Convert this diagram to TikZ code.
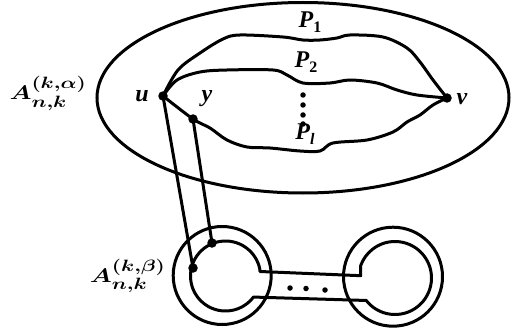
\documentclass[tikz,border=0pt]{standalone}
\usepackage{fontspec}
\usepackage{amsmath}
\usepackage{graphicx}
\newfontfamily\tnr{Liberation Serif}
\DeclareMathSizes{22}{22}{19}{14}
\usetikzlibrary{calc}
\newcommand{\subsc}[1]{\raisebox{-0.4ex}{\fontsize{16}{16}\selectfont #1}}
\newcommand{\wide}[1]{\scalebox{1.22}[0.95]{#1}}
\begin{document}
\begin{tikzpicture}[x=1pt,y=-1pt,line width=3pt,
  dotn/.style={circle,fill,inner sep=0pt,minimum size=9.5pt},
  sdot/.style={circle,fill,inner sep=0pt,minimum size=5.5pt},
  lbl/.style={font=\fontsize{24}{27}\selectfont\tnr\bfseries\itshape,inner sep=0pt},
  albl/.style={font=\fontsize{22}{25}\selectfont\boldmath,inner sep=0pt},
  pathline/.style={line join=round,line cap=round}]
\useasboundingbox (0,0) rectangle (511,334);
% outer region
\coordinate (E) at (303,97.75);
\draw (E) ellipse [x radius=206, y radius=95.25];
% vertices
\coordinate (u) at (163,96);
\coordinate (v) at (447,98);
\coordinate (y) at (193,119);
\coordinate (a) at (193,268);
\coordinate (b) at (212,243);
% paths
\draw[pathline] plot[smooth,tension=0.55] coordinates {(u) (178,70) (200,53) (223,39) (240,35) (283,37) (303,40) (320,40) (337,38) (350,35) (383,37) (407,48) (420,62) (433,80) (v)};
\draw[pathline] plot[smooth,tension=0.55] coordinates {(u) (177,80) (200,72) (227,70) (273,70) (287,75) (303,83) (330,83) (350,80) (377,83) (397,90) (417,95) (v)};
\draw[pathline] plot[smooth,tension=0.55] coordinates {(u) (y) (210,128) (227,140) (247,147) (270,148) (300,151) (320,151) (333,143) (367,140) (393,132) (407,122) (420,115) (433,105) (v)};
% lower structure
\coordinate (L) at (222.2,275.5);
\coordinate (R) at (393,276.7);
\coordinate (Li) at (225.5,276);
\coordinate (Ri) at (395,278);
\draw (L) circle (49);
\draw (R) circle (49.5);
\draw[line join=round] ($(Li)+(-10:35)$) arc[start angle=-10,end angle=-323,radius=35]
  -- ($(Ri)+(-218:36.5)$) arc[start angle=-218,end angle=-520,radius=36.5]
  -- (360.7,275.7) -- (260,271.5) -- cycle;
% connectors
\draw (u) -- (a);
\draw (y) -- (b);
% dots
\foreach \p in {u,v,y,a,b} \node[dotn] at (\p) {};
\node[sdot] (c1) at (290,288) {};
\node[sdot] (c2) at (306,288.5) {};
\node[sdot] (c3) at (325,290) {};
\node[sdot] (d1) at (303,95) {};
\node[sdot] (d2) at (303,105) {};
\node[sdot] (d3) at (303,115) {};
\node[sdot] (d4) at (303,124) {};
% labels
\node[lbl] (lu) at (142,96) {u};
\node[lbl] (lv) at (462,99) {v};
\node[lbl] (ly) at (207,99) {y};
\node[lbl] (p1) at (310,22) {P\subsc{\upshape 1}};
\node[lbl] (p2) at (306,62) {P\subsc{\upshape 2}};
\node[lbl] (pl) at (305,134) {P\subsc{l}};
\node[albl,anchor=west] (Aa) at (8,93.5) {\wide{$A^{(k,\alpha)}_{n,k}$}};
\node[albl,anchor=east] (Ab) at (167,276) {\wide{$A^{(k,\beta)}_{n,k}$}};
\end{tikzpicture}
\end{document}
